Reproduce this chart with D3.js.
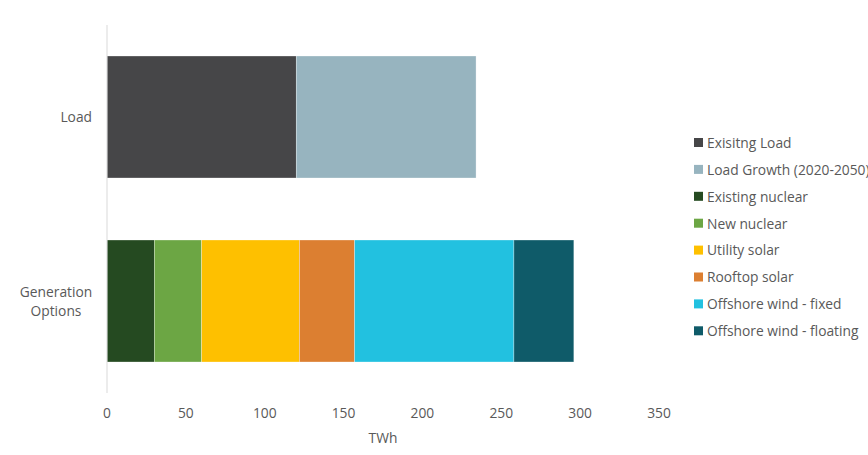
<!DOCTYPE html>
<html><head><meta charset="utf-8">
<script src="https://cdn.jsdelivr.net/npm/d3@7"></script>
<style>body{margin:0;background:#fff;} text{font-family:"Open Sans","Liberation Sans",sans-serif;}</style>
</head><body><svg id="c" width="868" height="455"></svg>
<script>
const categories = ["Load", "Generation Options"];
const seriesNames = ["Exisitng Load","Load Growth (2020-2050)","Existing nuclear","New nuclear","Utility solar","Rooftop solar","Offshore wind - fixed","Offshore wind - floating"];
const seriesColors = ["#464648","#97b4bf","#254a21","#6ca644","#fec000","#dc7f31","#22c1e0","#0f5b69"];
// values per series: [Load, Generation Options]
const seriesValues = [
  [120, 0],
  [114, 0],
  [0, 30],
  [0, 30],
  [0, 62],
  [0, 35],
  [0, 101],
  [0, 38]
];
const xTicks = [0,50,100,150,200,250,300,350];
const xTitle = "TWh";

const svg = d3.select("#c");
const x = d3.scaleLinear().domain([0,350]).range([107,659]);
const y = d3.scaleBand().domain(categories).range([25,393]).paddingInner(0.337).paddingOuter(0.1685);

const rows = categories.map((c,ci)=>{const o={cat:c}; seriesNames.forEach((s,si)=>o[s]=seriesValues[si][ci]); return o;});
const stack = d3.stack().keys(seriesNames)(rows);

svg.append("g").selectAll("g").data(stack).join("g")
  .attr("fill",(d,i)=>seriesColors[i])
  .selectAll("rect").data(d=>d.filter(p=>p[1]-p[0]>0)).join("rect")
  .attr("x",d=>x(d[0])).attr("width",d=>x(d[1])-x(d[0]))
  .attr("y",d=>y(d.data.cat)).attr("height",y.bandwidth())
  .attr("stroke","#ffffff").attr("stroke-opacity",0.5).attr("stroke-width",0.6);

svg.append("line").attr("x1",107).attr("x2",107).attr("y1",25).attr("y2",393)
  .attr("stroke","#d9d9d9").attr("stroke-width",1);

const fs = 13.8;
svg.append("g").selectAll("text").data(xTicks).join("text")
  .attr("x",d=>x(d)).attr("y",418).attr("text-anchor","middle")
  .attr("font-size",fs).attr("fill","#595959").text(d=>d);
svg.append("text").attr("x",383).attr("y",443).attr("text-anchor","middle")
  .attr("font-size",fs).attr("fill","#595959").text(xTitle);

svg.append("text").attr("x",92).attr("y",y("Load")+y.bandwidth()/2+5)
  .attr("text-anchor","end").attr("font-size",fs).attr("fill","#595959").text("Load");
const g2 = svg.append("text").attr("text-anchor","middle").attr("font-size",fs).attr("fill","#595959");
g2.append("tspan").attr("x",56).attr("y",y("Generation Options")+y.bandwidth()/2-4).text("Generation");
g2.append("tspan").attr("x",56).attr("y",y("Generation Options")+y.bandwidth()/2+15).text("Options");

const lg = svg.append("g").selectAll("g").data(seriesNames).join("g")
  .attr("transform",(d,i)=>`translate(694,${143+i*26.9})`);
lg.append("rect").attr("x",0).attr("y",-5).attr("width",9).attr("height",9).attr("fill",(d,i)=>seriesColors[i]);
lg.append("text").attr("x",13).attr("y",4.8).attr("font-size",fs).attr("fill","#595959").text(d=>d);
</script></body></html>
